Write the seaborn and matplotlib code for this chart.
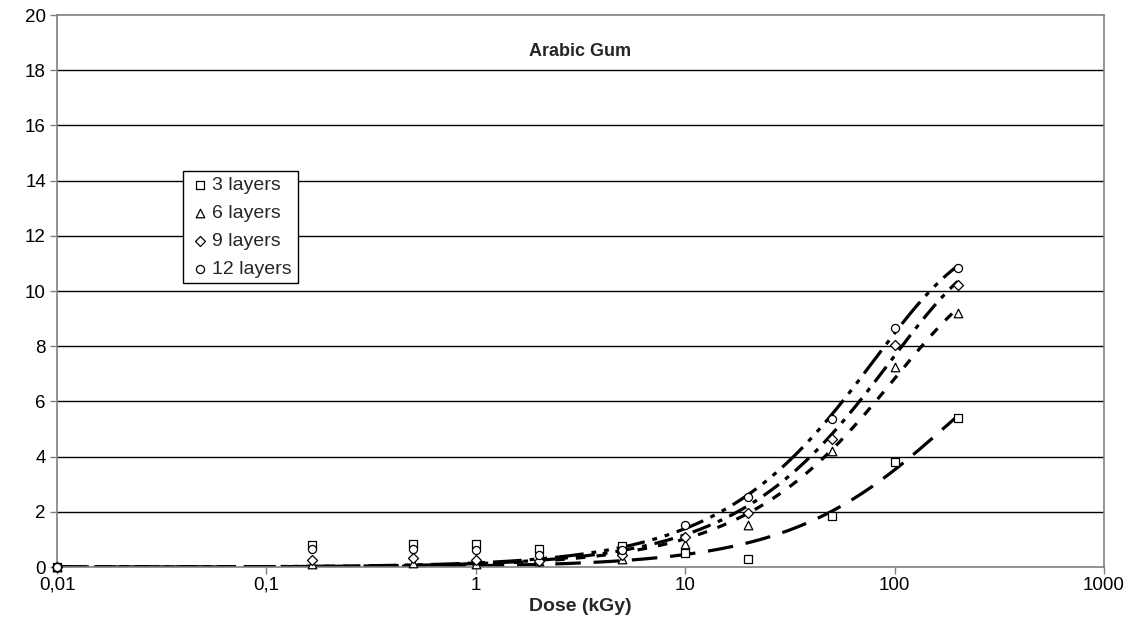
import numpy as np
import pandas as pd
import matplotlib
matplotlib.use("Agg")
import matplotlib.pyplot as plt
import seaborn as sns

# ---- data ----
dose = [0.01, 0.165, 0.5, 1, 2, 5, 10, 20, 50, 100, 200]
layers_3 = [0.0, 0.80, 0.85, 0.85, 0.65, 0.75, 0.50, 0.30, 1.85, 3.80, 5.40]
layers_6 = [0.0, 0.12, 0.13, 0.10, 0.20, 0.30, 0.82, 1.52, 4.20, 7.25, 9.20]
layers_9 = [0.0, 0.26, 0.32, 0.26, 0.22, 0.45, 1.08, 1.95, 4.65, 8.05, 10.20]
layers_12 = [0.0, 0.65, 0.65, 0.60, 0.45, 0.62, 1.52, 2.52, 5.35, 8.65, 10.85]
series_names = ["3 layers", "6 layers", "9 layers", "12 layers"]
x_tick_values = [0.01, 0.1, 1, 10, 100, 1000]
x_tick_labels = ["0,01", "0,1", "1", "10", "100", "1000"]
y_tick_values = list(range(0, 21, 2))
title_text = "Arabic Gum"
x_label = "Dose (kGy)"

series = [layers_3, layers_6, layers_9, layers_12]
markers = ["s", "^", "D", "o"]
marker_sizes = [34, 38, 26, 34]
dashes = [(8, 4), (3, 3.5), (6, 2.5, 1.5, 2.5), (9, 2.5, 1.5, 2.5, 1.5, 2.5)]

sns.set_theme(style="white")
plt.rcParams["font.family"] = ["Liberation Sans", "DejaVu Sans"]

fig = plt.figure(figsize=(11.39, 6.17), dpi=100)
ax = fig.add_axes([57 / 1139, 1 - 567 / 617, (1104 - 57) / 1139, (567 - 15) / 617])

for yv in y_tick_values[1:-1]:
    ax.axhline(yv, color="black", lw=1.0, zorder=0)


def saturating_fit(x, y):
    """Least-squares fit of y = a * (1 - exp(-b x)) to the data."""
    best = None
    for b in np.logspace(-4, 0, 4000):
        g = 1 - np.exp(-b * x)
        a = float(np.dot(g, y) / np.dot(g, g))
        err = float(np.sum((a * g - y) ** 2))
        if best is None or err < best[0]:
            best = (err, a, b)
    return best[1], best[2]


x_arr = np.array(dose, dtype=float)
grid = np.logspace(np.log10(dose[0]), np.log10(dose[-1]), 400)
for name, vals, dsh in zip(series_names, series, dashes):
    y_arr = np.array(vals, dtype=float)
    a, b = saturating_fit(x_arr, y_arr)
    fit = a * (1 - np.exp(-b * grid))
    sns.lineplot(x=grid, y=fit, ax=ax, color="black", lw=2.3, zorder=2)
    ax.get_lines()[-1].set_dashes(dsh)

for name, vals, mk, ms in zip(series_names, series, markers, marker_sizes):
    df = pd.DataFrame({"dose": dose, "val": vals})
    sns.scatterplot(data=df, x="dose", y="val", ax=ax, marker=mk, s=ms,
                    facecolor="white", edgecolor="black", linewidth=0.9,
                    label=name, zorder=3, clip_on=False)

ax.set_xscale("log")
ax.set_xlim(0.01, 1000)
ax.set_ylim(0, 20)
ax.set_xticks(x_tick_values)
ax.set_xticklabels(x_tick_labels)
ax.xaxis.set_minor_locator(matplotlib.ticker.NullLocator())
ax.set_yticks(y_tick_values)
ax.set_yticklabels([str(v) for v in y_tick_values])
ax.tick_params(axis="both", which="major", labelsize=13.5, length=5, width=1,
               color="#808080", direction="out", bottom=True, left=True, labelcolor="black")
ax.tick_params(axis="x", pad=2)
ax.tick_params(axis="y", pad=3)

for side in ["left", "right", "top", "bottom"]:
    ax.spines[side].set_visible(True)
    ax.spines[side].set_color("#808080")
    ax.spines[side].set_linewidth(1.2)

ax.set_xlabel(x_label, fontsize=14, fontweight="bold", labelpad=3)
ax.set_ylabel("")
ax.text(0.5, 0.933, title_text, transform=ax.transAxes, ha="center", va="center",
        fontsize=13, fontweight="bold")

leg = ax.legend(loc="upper left", bbox_to_anchor=((183 - 57) / 1047, (567 - 171) / 552),
                frameon=True, fancybox=False, edgecolor="black", framealpha=1,
                fontsize=14, handletextpad=0.1, borderpad=0.3, labelspacing=0.52,
                handlelength=1.1, borderaxespad=0)
leg.get_frame().set_linewidth(1.0)

fig.savefig("out.png", dpi=100)
